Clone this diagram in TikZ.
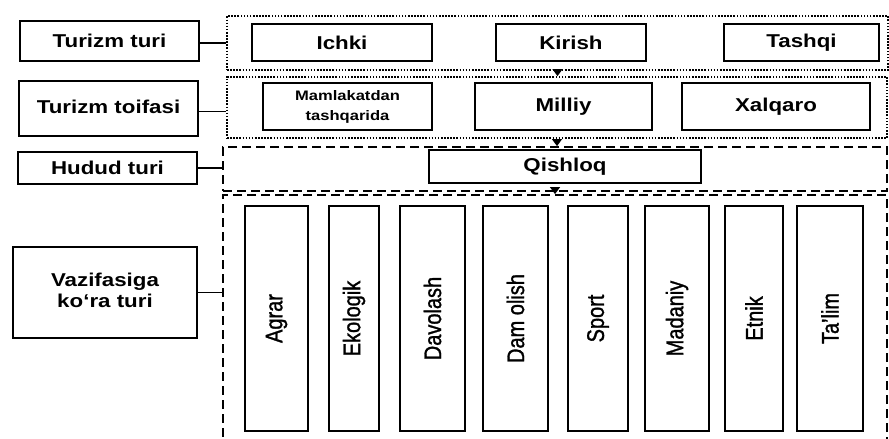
\documentclass[tikz,border=0pt]{standalone}
\usepackage{fontspec}
\usepackage{graphicx}
\setmainfont{Liberation Sans}
\newfontfamily\hfont[FakeStretch=1.2]{Liberation Sans Bold}
\newfontfamily\vfont[FakeStretch=0.833,FakeBold=1.2]{Liberation Sans}
\usetikzlibrary{arrows.meta}
\tikzset{
  cont/.style={draw, line width=1.8pt, inner sep=0pt},
  dotbox/.style={cont, dash pattern=on 1.6pt off 1.5pt},
  dashbox/.style={cont, dash pattern=on 9pt off 5pt},
  box/.style={draw, line width=2pt, inner sep=0pt, align=center,
    font=\hfont\fontsize{18.6}{23}\selectfont},
  smallbox/.style={box, font=\hfont\fontsize{13.8}{20}\selectfont},
  vbox/.style={draw, line width=2pt, inner sep=0pt,
    font=\vfont\fontsize{24}{28}\selectfont},
  link/.style={line width=1.3pt},
  arr/.style={line width=1pt, -{Triangle[width=10pt,length=7pt]}}
}
% \mybox{style}{name}{x1}{y1}{x2}{y2}{text}
\newcommand{\mybox}[7]{%
  \node[#1, minimum width={(#5)-(#3)}, minimum height={(#6)-(#4)}]
    (#2) at ({((#3)+(#5))/2},{((#4)+(#6))/2}) {#7};}
\begin{document}
\begin{tikzpicture}[x=1pt,y=-1pt]
\useasboundingbox (0,0) rectangle (889,439);
% containers
\mybox{dotbox}{c1}{227}{16}{888}{70}{}
\mybox{dotbox}{c2}{227}{77}{887}{138}{}
\mybox{dashbox}{c3}{223}{147}{887}{191}{}
\mybox{dashbox}{c4}{223}{195}{887}{440}{}
% left boxes
\mybox{box}{l1}{20}{21}{199}{61}{Turizm turi}
\mybox{box}{l2}{19}{81}{198}{136}{\raisebox{4pt}{Turizm toifasi}}
\mybox{box}{l3}{18}{152}{197}{184}{Hudud turi}
\mybox{box}{l4}{13}{247}{197}{338}{\raisebox{4pt}{\shortstack{Vazifasiga\\[1pt]ko‘ra turi}}}
% row 1
\mybox{box}{ichki}{252}{24}{432}{61}{Ichki}
\mybox{box}{kirish}{496}{24}{646}{61}{Kirish}
\mybox{box}{tashqi}{724}{24}{879}{61}{Tashqi}
% row 2
\mybox{smallbox}{mam}{263}{83}{432}{130}{Mamlakatdan\\tashqarida}
\mybox{box}{milliy}{475}{83}{652}{130}{\raisebox{4pt}{Milliy}}
\mybox{box}{xalqaro}{682}{83}{870}{130}{\raisebox{4pt}{Xalqaro}}
% row 3
\mybox{box}{qishloq}{429}{150}{701}{183}{Qishloq}
% row 4
\mybox{vbox}{agrar}{245}{206}{308}{431}{\rotatebox{90}{Agrar}}
\mybox{vbox}{ekologik}{329}{206}{379}{431}{\rotatebox{90}{Ekologik}}
\mybox{vbox}{davolash}{400}{206}{465}{431}{\rotatebox{90}{Davolash}}
\mybox{vbox}{damolish}{483}{206}{548}{431}{\rotatebox{90}{Dam olish}}
\mybox{vbox}{sport}{568}{206}{628}{431}{\rotatebox{90}{Sport}}
\mybox{vbox}{madaniy}{645}{206}{709}{431}{\rotatebox{90}{Madaniy}}
\mybox{vbox}{etnik}{725}{206}{783}{431}{\rotatebox{90}{Etnik}}
\mybox{vbox}{talim}{797}{206}{863}{431}{\rotatebox{90}{Ta’lim}}
% connectors
\draw[link] ([yshift=-2pt]l1.east) -- ([yshift=-2pt]l1.east -| c1.west);
\draw[link] ([yshift=-3pt]l2.east) -- ([yshift=-3pt]l2.east -| c2.west);
\draw[link] (l3.east) -- (l3.east -| c3.west);
\draw[link] (l4.east) -- (l4.east -| c4.west);
% arrows
\draw[arr] (c1.south) -- (c1.south |- c2.north);
\draw[arr] (c2.south) -- (c2.south |- c3.north);
\draw[arr] ([yshift=3pt]c3.south) -- (c3.south |- c4.north);
\end{tikzpicture}
\end{document}
